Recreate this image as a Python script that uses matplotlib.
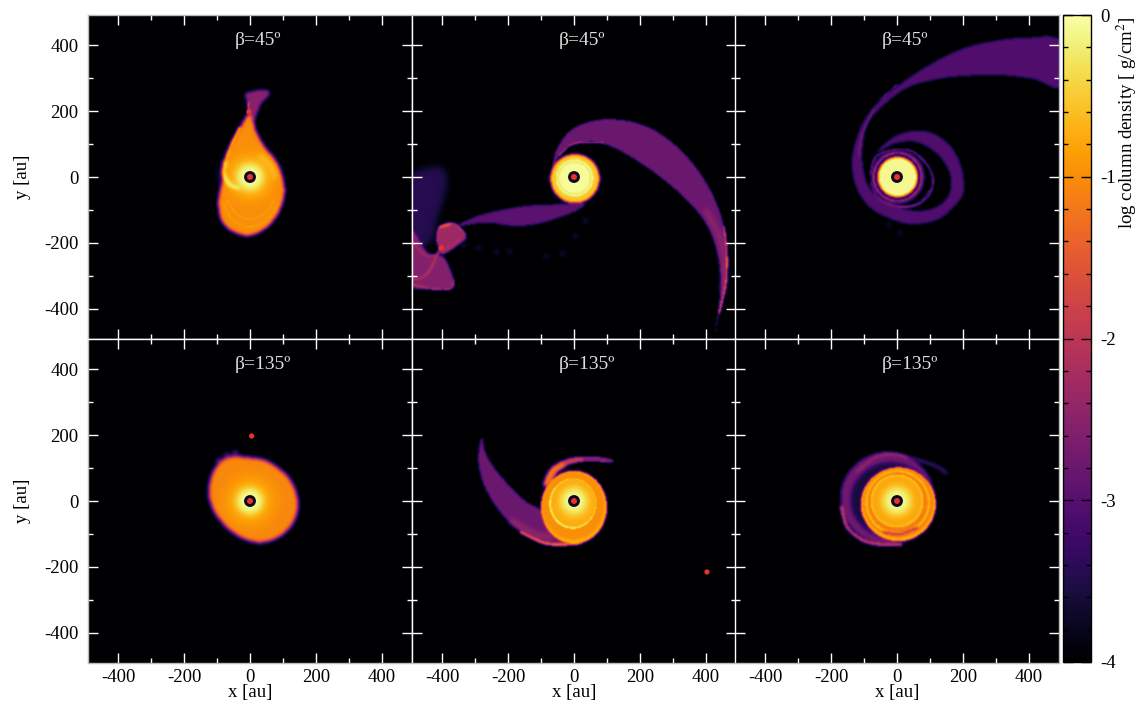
import matplotlib
matplotlib.use('Agg')
import matplotlib.pyplot as plt
import numpy as np
from matplotlib.patches import Ellipse
from matplotlib.path import Path
from matplotlib.ticker import MultipleLocator

plt.rcParams['font.family'] = ['Liberation Serif', 'DejaVu Serif']
plt.rcParams['mathtext.fontset'] = 'stix'

# panel titles, ticks
titles = ['β=45º', 'β=45º', 'β=45º', 'β=135º', 'β=135º', 'β=135º']
major_ticks = [-400, -200, 0, 200, 400]
minor_ticks = [-300, -100, 100, 300]
cbar_ticks = [-4, -3, -2, -1, 0]
cbar_labels = ['-4', '-3', '-2', '-1', '0']

# companion star position in each panel
companions = [(-3, 197), (-402, -215), None, (5, 197), (403, -215), None]

# PANEL 1, teardrop disc
p1_drop = [(-3, 192), (11, 167), (19, 137), (44, 92), (79, 47), (99, -3), (104, -53), (84, -113), (44, -158),
           (-6, -178), (-56, -163), (-86, -133), (-96, -83), (-91, -43), (-78, 7), (-74, 57), (-56, 102), (-26, 157)]
p1_tail = [(-3, 192), (-8, 222), (-14, 252), (4, 259), (44, 265), (59, 252), (34, 222), (19, 187), (11, 167)]
p1_streak = [(-74, 47), (-78, 7), (-61, -23), (-36, -33)]
p1_edge = [(-30, 150), (-55, 100), (-72, 55)]
p1_glint = [(-3, 195), (-5, 225)]
p1_arc1 = [(-82, -80), (-50, -132), (0, -152), (50, -132), (85, -80)]
p1_arc2 = [(-70, -70), (-40, -112), (0, -128), (45, -110), (72, -70)]
p1_lobe = [(30, 65), (65, 30), (75, 0)]
p1_discs = [(0, 0, 72, 72, -0.8, 6), (0, 0, 50, 50, -0.5, 5), (0, 0, 38, 38, -0.08, 3)]

# PANEL 2, long arm, second arm, debris around the companion
p2_arm = [(-65, 17), (-55, 77), (-15, 137), (45, 167), (115, 175), (195, 162), (275, 122), (355, 47), (415, -43),
          (450, -133), (465, -233), (460, -333), (440, -413), (427, -473),
          (440, -383), (445, -303), (430, -213), (395, -133), (335, -63), (265, -3), (195, 47), (125, 87),
          (65, 107), (15, 102), (-25, 87), (-50, 57)]
p2_arm_mid = [(400, -100), (440, -180), (455, -260), (452, -340)]
p2_arm_rim = [(455, -153), (463, -233), (460, -323), (440, -413)]
p2_arm_top = [(-45, 65), (-10, 97), (30, 105), (90, 103)]
p2_lower = [(25, -78), (-55, -83), (-145, -88), (-235, -103), (-305, -123), (-350, -148),
            (-265, -138), (-185, -148), (-115, -143), (-45, -123), (5, -103), (35, -83)]
p2_cloud = [(-495, -8), (-415, 32), (-385, 7), (-390, -53), (-415, -133), (-430, -193), (-495, -213)]
p2_quad = [(-415, -193), (-407, -153), (-365, -141), (-330, -173), (-335, -193), (-395, -233), (-410, -213)]
p2_fan = [(-495, -163), (-445, -228), (-395, -243), (-365, -313), (-375, -338), (-435, -338), (-495, -323)]
p2_fan_rim = [(-495, -323), (-435, -338), (-375, -338), (-365, -313)]
p2_quad_rim = [(-415, -193), (-407, -153), (-365, -141), (-330, -173)]
p2_fold = [(-405, -213), (-445, -293), (-495, -313)]
p2_fold2 = [(-495, -190), (-445, -240), (-400, -225), (-345, -190)]
p2_crest = [(-407, -153), (-375, -143)]
p2_clumps = [(-335, -208), (-195, -225), (-235, -225), (-35, -233), (5, -178), (35, -133), (-290, -215), (-85, -240)]
p2_discs = [(3, -5, 75, 75, -1.0, 1), (3, -5, 69, 69, -0.4, 1), (3, -4, 63, 63, -0.7, 1), (2, -3, 58, 58, -0.08, 1),
            (2, -3, 50, 50, -0.4, 0.7), (2, -3, 47, 47, -0.05, 0.7)]

# PANEL 3, wound up arm
p3_arm = [(495, 412), (394, 422), (294, 412), (194, 387), (94, 337), (4, 277), (-66, 217), (-111, 147), (-136, 57),
          (-126, -23), (-86, -88), (-16, -128), (54, -143), (134, -123), (194, -63), (202, -13), (189, 47),
          (154, 102), (94, 137), (34, 137), (-16, 117), (-61, 77),
          (-46, 82), (-6, 102), (54, 107), (114, 77), (154, 27), (164, -33), (134, -83), (64, -103), (-16, -83),
          (-76, -43), (-101, 17), (-104, 97), (-86, 167), (-36, 222), (34, 272), (124, 297), (214, 307), (314, 309),
          (414, 297), (495, 275)]
p3_ring = [(-80, 10), (-65, 60), (-20, 80), (40, 80), (85, 45), (108, 0), (100, -50), (60, -85), (0, -90),
           (-55, -65), (-78, -20)]
p3_thin1 = [(-70, 205), (-105, 130), (-115, 60)]
p3_thin2 = [(0, 280), (-50, 235)]
p3_thin3 = [(-30, -75), (20, -90), (70, -75), (100, -40)]
p3_clumps = [(9, -170), (-25, -145)]
p3_discs = [(2, 0, 82, 82, -3.1, 1), (2, 0, 74, 74, -2.0, 1), (2, 0, 69, 69, -4.0, 0.8), (2, 0, 63, 63, -1.3, 0.8),
            (2, 0, 58, 58, -0.08, 0.8)]

# PANEL 4, round disc
p4_disc = [(-125, 32), (-110, 92), (-70, 132), (0, 132), (60, 117), (120, 67), (145, 2), (135, -58), (90, -108),
           (25, -126), (-40, -103), (-90, -58), (-115, -18)]
p4_bumps = [(-95, 122), (-70, 137), (-45, 145)]
p4_discs = [(0, 0, 78, 78, -0.85, 7), (0, 0, 52, 52, -0.6, 5), (0, 0, 38, 38, -0.08, 3)]

# PANEL 5, crescent and rings
p5_crescent = [(-280, 192), (-290, 122), (-270, 42), (-220, -38), (-160, -93), (-90, -128), (-40, -133), (0, -130),
               (0, -118), (-40, -103), (-80, -58), (-100, -28), (-150, 2), (-210, 62), (-250, 112), (-270, 152)]
p5_rim = [(-160, -95), (-90, -127), (-30, -131), (20, -127)]
p5_mid = [(-190, -60), (-130, -95), (-70, -110)]
p5_top = [(-90, 52), (-65, 102), (-10, 130), (60, 134), (115, 124), (100, 117), (50, 122), (-10, 112), (-45, 92), (-70, 57)]
p5_top_hot = [(-85, 50), (-65, 90), (-35, 108)]
p5_top_tail = [(30, 128), (70, 128), (115, 122)]
p5_discs = [(0, -19, 100, 111, -0.72, 0.8), (-2, -15, 94, 102, -1.0, 1), (-4, -8, 71, 76, -0.15, 0.6),
            (-2, -6, 68, 73, -0.75, 0.6), (0, -3, 50, 52, -0.55, 3), (0, 0, 36, 36, -0.1, 3)]

# PANEL 6, ringed disc with outer wrap
p6_outer = [(-29, 8, 142, 140, -2.75, 1.5), (-18, 3, 122, 114, -3.6, 2)]
p6_tail = [(20, 135), (70, 122), (120, 105), (150, 85)]
p6_rim_low = [(-168, -20), (-150, -80), (-100, -120), (-40, -132), (10, -132)]
p6_rim_up = [(-120, 90), (-60, 135), (0, 140), (30, 130)]
p6_cut = [(-40, -95), (10, -100), (60, -82)]
p6_discs = [(4, -10, 114, 112, -0.7, 0.8), (4, -6, 107, 105, -1.1, 0.8), (2, -4, 98, 98, -0.6, 0.8),
            (2, -4, 91, 91, -1.15, 0.8), (0, 0, 80, 80, -0.45, 0.7), (0, 0, 76, 76, -0.78, 0.7),
            (0, 0, 50, 50, -0.5, 3), (0, 0, 36, 36, -0.1, 3)]

cmap = plt.get_cmap('inferno')
LIM = 491.0
N = 324
grid = (np.arange(N) + 0.5) / N * 2 * LIM - LIM
GX, GY = np.meshgrid(grid, grid)
points = np.column_stack([GX.ravel(), GY.ravel()])


def soften(a, s):
    # gaussian blur along both grid directions, s in grid cells
    r = int(3 * s) + 1
    k = np.exp(-0.5 * (np.arange(-r, r + 1) / s) ** 2)
    k = k / k.sum()
    a = np.pad(a, r, mode='edge')
    a = np.apply_along_axis(lambda m: np.convolve(m, k, mode='same'), 0, a)
    a = np.apply_along_axis(lambda m: np.convolve(m, k, mode='same'), 1, a)
    return a[r:-r, r:-r]


def put(f, mask, v, s):
    a = soften(mask.astype(float), s)
    return f * (1 - a) + v * a


def smooth_path(pts, closed):
    # bezier segments through the read points
    n = len(pts)
    verts = [pts[0]]
    codes = [Path.MOVETO]
    stop = n if closed else n - 1
    for i in range(stop):
        if closed:
            p0, p1, p2, p3 = pts[i - 1], pts[i], pts[(i + 1) % n], pts[(i + 2) % n]
        else:
            p0, p1, p2, p3 = pts[max(i - 1, 0)], pts[i], pts[i + 1], pts[min(i + 2, n - 1)]
        verts.append((p1[0] + (p2[0] - p0[0]) / 6, p1[1] + (p2[1] - p0[1]) / 6))
        verts.append((p2[0] - (p3[0] - p1[0]) / 6, p2[1] - (p3[1] - p1[1]) / 6))
        verts.append(p2)
        codes += [Path.CURVE4] * 3
    return Path(verts, codes)


def blob(f, pts, v, s=1.0):
    mask = smooth_path(pts, True).to_polygons(closed_only=False)[0]
    inside = Path(mask).contains_points(points).reshape(N, N)
    return put(f, inside, v, s)


def stroke(f, pts, v, w, s=0.8):
    line = smooth_path(pts, False).to_polygons(closed_only=False)[0]
    d = np.full((N, N), 1e9)
    for a, b in zip(line[:-1], line[1:]):
        ab = b - a
        t = ((GX - a[0]) * ab[0] + (GY - a[1]) * ab[1]) / max((ab ** 2).sum(), 1e-6)
        t = np.clip(t, 0, 1)
        d = np.minimum(d, np.hypot(GX - a[0] - t * ab[0], GY - a[1] - t * ab[1]))
    return put(f, d < w / 2, v, s)


def ovals(f, layers):
    for cx, cy, rx, ry, v, s in layers:
        f = put(f, ((GX - cx) / rx) ** 2 + ((GY - cy) / ry) ** 2 < 1, v, s)
    return f


def clumps(f, pts, v, r):
    for x, y in pts:
        f = ovals(f, [(x, y, r, r, v, 2.0)])
    return f


fields = [np.full((N, N), -4.0) for i in range(6)]

# panel 1
f = fields[0]
f = blob(f, p1_tail, -2.5, 1.5)
f = blob(f, p1_drop, -1.0, 1.6)
f = stroke(f, p1_arc1, -0.8, 4)
f = stroke(f, p1_arc2, -0.8, 4)
f = stroke(f, p1_edge, -0.45, 6, 1.0)
f = ovals(f, p1_discs)
f = stroke(f, p1_lobe, -0.5, 12, 2.5)
f = stroke(f, p1_streak, -0.15, 12, 1.5)
f = stroke(f, p1_glint, -0.7, 4)
fields[0] = f

# panel 2
f = fields[1]
f = blob(f, p2_cloud, -3.45, 4.0)
f = clumps(f, p2_clumps, -3.5, 8)
f = blob(f, p2_arm, -2.8, 0.8)
f = stroke(f, p2_arm_mid, -2.3, 12, 2.5)
f = stroke(f, p2_arm_rim, -1.2, 4, 0.8)
f = stroke(f, p2_arm_top, -1.7, 3, 0.7)
f = blob(f, p2_lower, -2.95, 1.0)
f = blob(f, p2_fan, -2.55, 1.0)
f = blob(f, p2_quad, -2.3, 1.0)
f = stroke(f, p2_fan_rim, -2.0, 5, 0.8)
f = stroke(f, p2_quad_rim, -1.8, 4, 0.8)
f = stroke(f, p2_fold, -1.9, 5, 1.0)
f = stroke(f, p2_fold2, -2.1, 4, 0.8)
f = stroke(f, p2_crest, -1.0, 5, 1.0)
f = ovals(f, p2_discs)
fields[1] = f

# panel 3
f = fields[2]
f = clumps(f, p3_clumps, -3.55, 8)
f = blob(f, p3_arm, -3.05, 1.2)
f = stroke(f, p3_ring, -2.6, 5)
f = stroke(f, p3_thin1, -2.4, 3)
f = stroke(f, p3_thin2, -2.6, 3)
f = stroke(f, p3_thin3, -2.3, 3)
f = ovals(f, p3_discs)
fields[2] = f

# panel 4
f = fields[3]
f = clumps(f, p4_bumps, -3.0, 9)
f = blob(f, p4_disc, -1.05, 1.9)
f = ovals(f, p4_discs)
fields[3] = f

# panel 5
f = fields[4]
f = blob(f, p5_crescent, -2.8, 1.0)
f = stroke(f, p5_mid, -2.3, 14, 2.5)
f = stroke(f, p5_rim, -1.1, 8, 1.0)
f = blob(f, p5_top, -1.9, 1.0)
f = stroke(f, p5_top_hot, -1.0, 14, 2.0)
f = stroke(f, p5_top_tail, -2.8, 6)
f = ovals(f, p5_discs)
fields[4] = f

# panel 6
f = fields[5]
f = stroke(f, p6_tail, -3.2, 10, 1.5)
f = ovals(f, p6_outer)
f = stroke(f, p6_rim_low, -1.9, 10, 1.0)
f = stroke(f, p6_rim_up, -2.4, 8, 1.0)
f = ovals(f, p6_discs)
f = stroke(f, p6_cut, -2.2, 6, 1.0)
fields[5] = f

fig = plt.figure(figsize=(11.43, 7.07), dpi=100, facecolor='white')
W, H = 1143.0, 707.0
lefts = [88, 412, 735]
tops = [15, 339]
side = 324
axes = []
for r in range(2):
    for c in range(3):
        ax = fig.add_axes([lefts[c] / W, 1 - (tops[r] + side) / H, side / W, side / H])
        axes.append(ax)

# density maps, sink particles, frames, ticks
for i, ax in enumerate(axes):
    im = ax.imshow(soften(fields[i], 0.6), origin='lower', extent=[-LIM, LIM, -LIM, LIM], cmap=cmap,
                   vmin=-4, vmax=0, interpolation='nearest', aspect='auto')
    ax.add_patch(Ellipse((0, 0), 36, 36, fc='#0d0820', ec='none', zorder=5))
    ax.add_patch(Ellipse((0, 0), 18, 18, fc='#e8322e', ec='none', zorder=6))
    if companions[i] is not None:
        ax.add_patch(Ellipse(companions[i], 16, 16, fc='#e8322e', ec='none', zorder=6))
    ax.text(-46, 414, titles[i], color='#dddddd', fontsize=14, ha='left', va='center')
    ax.set_xticks(major_ticks)
    ax.set_yticks(major_ticks)
    ax.set_xticks(minor_ticks, minor=True)
    ax.set_yticks(minor_ticks, minor=True)
    ax.tick_params(which='major', direction='in', length=7.5, width=1, color='white',
                   top=True, right=True, labelsize=13.5, pad=7)
    ax.tick_params(which='minor', direction='in', length=3.8, width=1, color='white', top=True, right=True)
    ax.tick_params(axis='x', which='major', pad=4)
    ax.set_xticklabels([str(t) for t in major_ticks])
    ax.set_yticklabels([str(t) for t in major_ticks])
    row, column = i // 3, i % 3
    ax.tick_params(labelleft=column == 0, labelbottom=row == 1)
    ax.spines['top'].set_color('#bbbbbb' if row == 0 else 'white')
    ax.spines['bottom'].set_color('#bbbbbb' if row == 1 else 'white')
    ax.spines['left'].set_color('#bbbbbb' if column == 0 else 'white')
    ax.spines['right'].set_color('#bbbbbb' if column == 2 else 'white')
    for s in ax.spines.values():
        s.set_linewidth(1.0)
    if row == 1:
        ax.set_xlabel('x [au]', fontsize=13.5, labelpad=-1)
    if column == 0:
        ax.set_ylabel('y [au]', fontsize=13.5, labelpad=9)

# colour bar
cax = fig.add_axes([1062.5 / W, 1 - 662 / H, 28 / W, 647 / H])
cb = fig.colorbar(im, cax=cax)
cb.set_ticks(cbar_ticks)
cb.set_ticklabels(cbar_labels)
cax.yaxis.set_minor_locator(MultipleLocator(0.2))
cax.tick_params(which='major', direction='in', length=7.5, width=1, color='black', left=True, right=True,
                labelsize=13.5, pad=7)
cax.tick_params(which='minor', direction='in', length=3.8, width=1, color='black', left=True, right=True)
cb.outline.set_linewidth(1.0)
fig.text(1127 / W, 1 - 16 / H, 'log column density [ g/cm$^2$]', rotation=90, fontsize=13.6,
         ha='center', va='top')

fig.savefig('out.png', dpi=100)
